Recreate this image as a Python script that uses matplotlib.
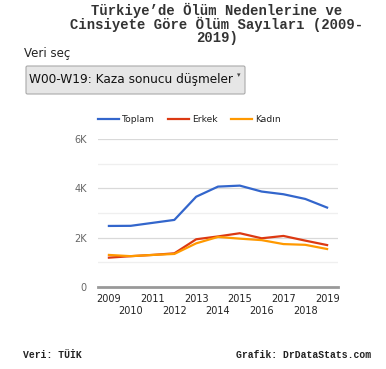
import matplotlib.pyplot as plt
from matplotlib.patches import FancyBboxPatch
from matplotlib.lines import Line2D

years = [2009, 2010, 2011, 2012, 2013, 2014, 2015, 2016, 2017, 2018, 2019]
toplam = [2475, 2480, 2600, 2720, 3660, 4070, 4110, 3870, 3760, 3570, 3220]
erkek = [1190, 1250, 1300, 1365, 1935, 2050, 2180, 1975, 2070, 1880, 1700]
kadin = [1300, 1250, 1300, 1340, 1770, 2030, 1960, 1900, 1740, 1710, 1540]
yticks = [0, 2000, 4000, 6000]
ylabels = ['0', '2K', '4K', '6K']
series = [('Toplam', toplam, '#3366cc'), ('Erkek', erkek, '#dc3912'),
          ('Kadın', kadin, '#ff9900')]

W, H = 386, 369
fig = plt.figure(figsize=(W / 100, H / 100), dpi=100)

mono = ['Liberation Mono', 'DejaVu Sans Mono']
fig.text(217 / W, 1 - 3 / H,
         "Türkiye\u2019de Ölüm Nedenlerine ve\nCinsiyete Göre Ölüm Sayıları (2009-\n2019)",
         ha='center', va='top', family=mono, fontweight='bold', fontsize=10,
         linespacing=0.92, color='#333')

fig.text(24 / W, 1 - 54 / H, "Veri seç", ha='left', va='center',
         family='DejaVu Sans', fontsize=8.5, color='#222')

# dropdown box
box = FancyBboxPatch((26 / W, 1 - 94 / H), 219 / W, 28 / H,
                     boxstyle='round,pad=0,rounding_size=0.004',
                     transform=fig.transFigure, facecolor='#e6e6e6',
                     edgecolor='#a9a9a9', linewidth=0.8)
fig.patches.append(box)
fig.text(29 / W, 1 - 80 / H, "W00-W19: Kaza sonucu düşmeler", ha='left',
         va='center', family='DejaVu Sans', fontsize=8.7, color='#111')
fig.text(239 / W, 1 - 75 / H, "\u25BE", ha='center', va='center',
         family='DejaVu Sans', fontsize=5, color='#444')

ax = fig.add_axes([98 / W, 1 - 287 / H, 240 / W, 148 / H])
for name, vals, col in series:
    ax.plot(years, vals, color=col, lw=1.6, label=name)

ax.set_xlim(2008.5, 2019.5)
ax.set_ylim(0, 6000)
for v in [1000, 3000, 5000]:
    ax.axhline(v, color='#efefef', lw=0.9, zorder=0)
for v in [2000, 4000, 6000]:
    ax.axhline(v, color='#d9d9d9', lw=0.9, zorder=0)
ax.axhline(0, color='#999999', lw=2, zorder=1, clip_on=False)

for s in ax.spines.values():
    s.set_visible(False)
ax.set_yticks(yticks)
ax.set_yticklabels(ylabels)
ax.set_xticks(years[0::2])
ax.set_xticklabels([str(y) for y in years[0::2]])
ax.set_xticks(years[1::2], minor=True)
ax.set_xticklabels([str(y) for y in years[1::2]], minor=True)
ax.tick_params(axis='both', which='both', length=0, labelsize=7, labelcolor='#222')
ax.tick_params(axis='y', pad=8, labelcolor='#666')
ax.tick_params(axis='x', which='major', pad=5)
ax.tick_params(axis='x', which='minor', pad=14)

# legend drawn in figure pixels
lx = [98, 168, 231]
ly = 1 - 119 / H
for (name, vals, col), x0 in zip(series, lx):
    fig.add_artist(Line2D([x0 / W, (x0 + 21) / W], [ly, ly], color=col, lw=1.6,
                          transform=fig.transFigure))
    fig.text((x0 + 24) / W, ly, name, ha='left', va='center',
             family='DejaVu Sans', fontsize=6.6, color='#222')

fig.text(23 / W, 1 - 355 / H, "Veri: TÜİK", ha='left', va='center',
         family=mono, fontweight='bold', fontsize=7, color='#222')
fig.text(371 / W, 1 - 355 / H, "Grafik: DrDataStats.com", ha='right', va='center',
         family=mono, fontweight='bold', fontsize=7, color='#222')

fig.savefig('out.png', dpi=100, facecolor='white')
